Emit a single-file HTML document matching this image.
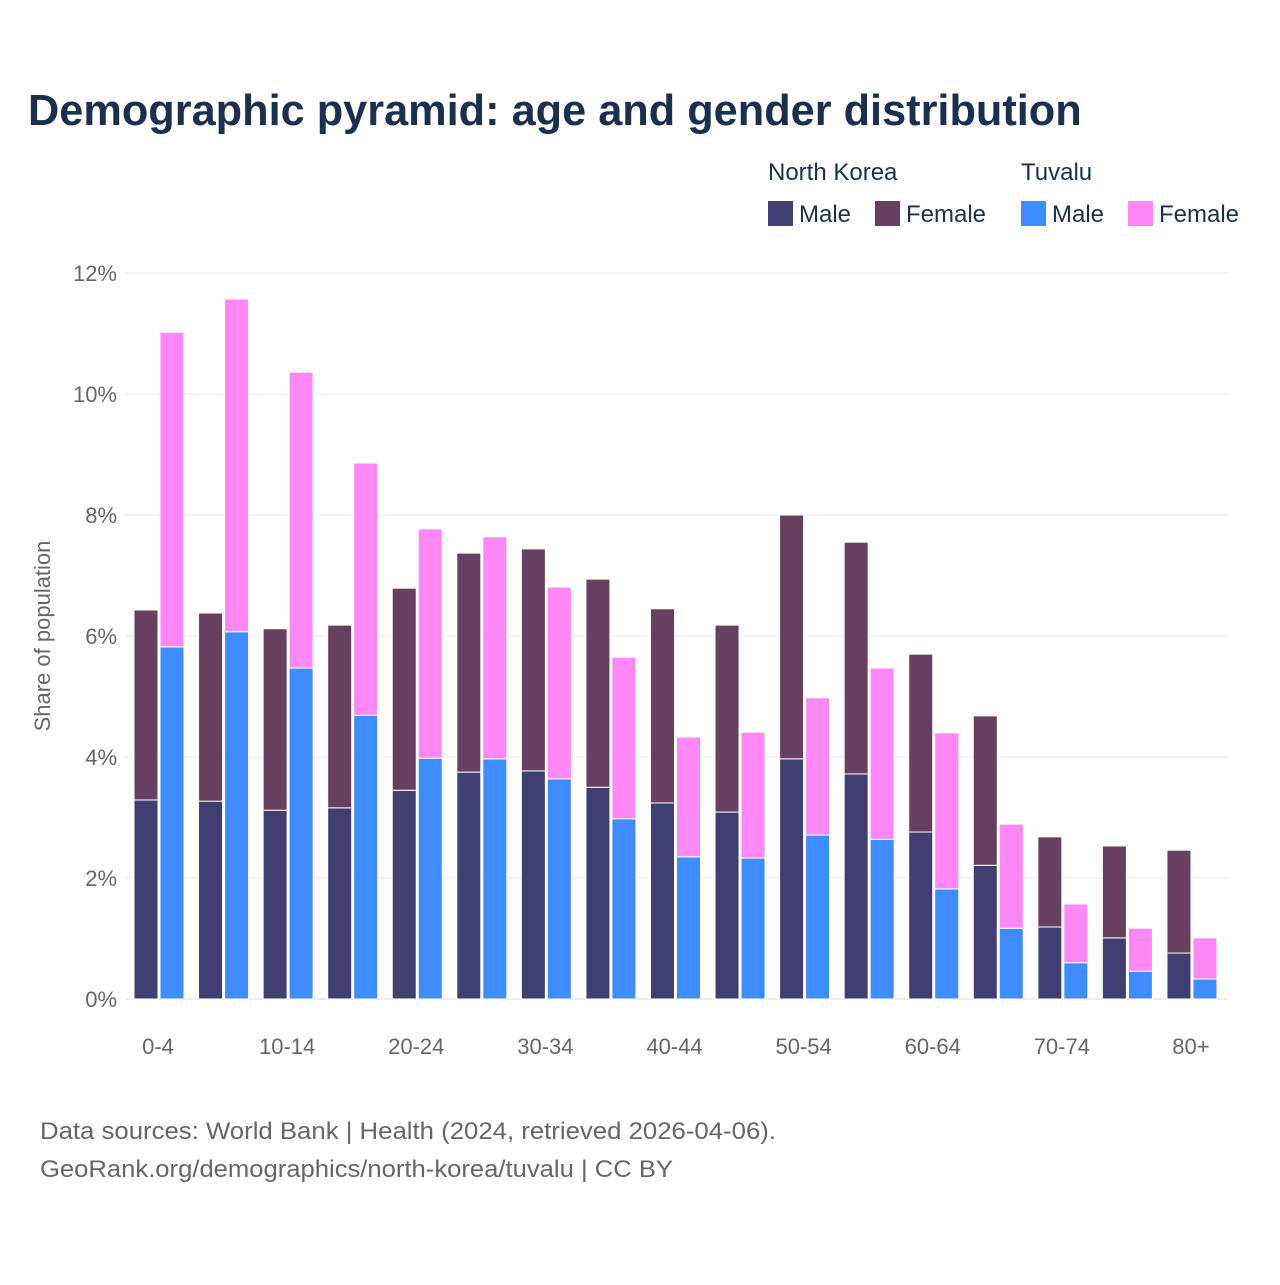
<!DOCTYPE html>
<html><head><meta charset="utf-8"><style>
body{margin:0;background:#fff;font-family:"Liberation Sans",sans-serif;}
svg text{font-family:"Liberation Sans",sans-serif;}
</style></head><body>
<svg id="c" width="1280" height="1280" xmlns="http://www.w3.org/2000/svg">
<text x="28" y="125" font-size="43.3" font-weight="bold" fill="#1b3050">Demographic pyramid: age and gender distribution</text>
<g font-size="24" fill="#1b3050">
<text x="768" y="180">North Korea</text>
<text x="1021" y="180">Tuvalu</text>
<rect x="768" y="201" width="25" height="25" fill="#413f72"/>
<text x="799" y="222">Male</text>
<rect x="875" y="201" width="25" height="25" fill="#673f5f"/>
<text x="906" y="222">Female</text>
<rect x="1021" y="201" width="25" height="25" fill="#3f8cff"/>
<text x="1052" y="222">Male</text>
<rect x="1128" y="201" width="25" height="25" fill="#ff88f7"/>
<text x="1159" y="222">Female</text>
</g>
<g id="grid"></g><g id="bars"></g><g id="labels"></g>
<text transform="translate(50,636) rotate(-90)" text-anchor="middle" font-size="22" fill="#666">Share of population</text>
<text x="40" y="1139" font-size="24" fill="#666" textLength="736" lengthAdjust="spacingAndGlyphs">Data sources: World Bank | Health (2024, retrieved 2026-04-06).</text>
<text x="40" y="1177" font-size="24" fill="#666" textLength="633" lengthAdjust="spacingAndGlyphs">GeoRank.org/demographics/north-korea/tuvalu | CC BY</text>
</svg>
<script>
const categories=["0-4","5-9","10-14","15-19","20-24","25-29","30-34","35-39","40-44","45-49","50-54","55-59","60-64","65-69","70-74","75-79","80+"];
const nkMale=[3.29,3.27,3.12,3.16,3.45,3.75,3.77,3.50,3.24,3.09,3.97,3.72,2.76,2.21,1.19,1.01,0.76];
const nkFemale=[3.14,3.11,3.00,3.02,3.34,3.62,3.67,3.44,3.21,3.09,4.03,3.83,2.94,2.47,1.49,1.52,1.70];
const tvMale=[5.82,6.07,5.47,4.69,3.98,3.97,3.64,2.98,2.35,2.33,2.71,2.64,1.82,1.17,0.60,0.46,0.33];
const tvFemale=[5.20,5.50,4.89,4.17,3.79,3.67,3.17,2.67,1.98,2.08,2.27,2.83,2.58,1.72,0.97,0.71,0.68];
const yTicks=[0,2,4,6,8,10,12];
const xLabelIdx=[0,2,4,6,8,10,12,14,16];
const NS="http://www.w3.org/2000/svg";
const y=v=>999-v*60.5;
const xc=i=>159+i*64.56;
function mk(tag,attrs,parent){const e=document.createElementNS(NS,tag);for(const k in attrs)e.setAttribute(k,attrs[k]);document.getElementById(parent).appendChild(e);return e;}
yTicks.forEach(t=>{
 const l=mk('line',{x1:125,x2:1228,y1:y(t),y2:y(t),stroke:t===0?'#ddd':'#eaeaea','stroke-width':1},'grid');
 
 
 const tx=mk('text',{x:117,y:y(t)+8,'text-anchor':'end','font-size':22,fill:'#666'},'labels');
 tx.textContent=t+'%';
 
 
});
xLabelIdx.forEach(i=>{
 const tx=mk('text',{x:xc(i)-1,y:1054,'text-anchor':'middle','font-size':22,fill:'#666'},'labels');
 tx.textContent=categories[i];
 
 
});
function bar(x,v0,v1,col,name){
 const r=mk('rect',{x:x,y:y(v1),width:24,height:y(v0)-y(v1),fill:col,stroke:'#fff','stroke-width':1},'bars');
 
 
}
categories.forEach((c,i)=>{
 const x=xc(i);
 bar(x-25,0,nkMale[i],'#413f72','bar-nk-male');
 bar(x-25,nkMale[i],nkMale[i]+nkFemale[i],'#673f5f','bar-nk-female');
 bar(x+1,0,tvMale[i],'#3f8cff','bar-tuvalu-male');
 bar(x+1,tvMale[i],tvMale[i]+tvFemale[i],'#ff88f7','bar-tuvalu-female');
});
</script>
</body></html>
